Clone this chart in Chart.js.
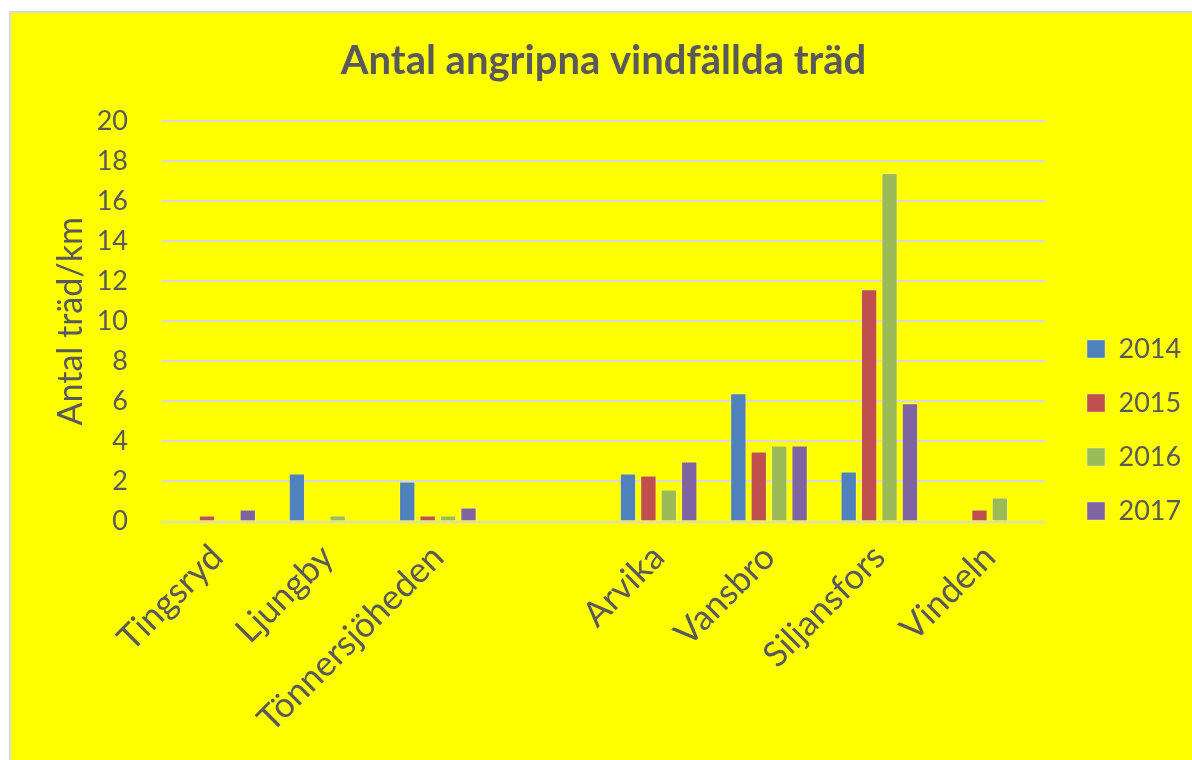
<!DOCTYPE html>
<html>
<head>
<meta charset="utf-8">
<script src="https://cdn.jsdelivr.net/npm/chart.js@4"></script>
<style>
  html, body { margin: 0; padding: 0; background: #fff; overflow: hidden; }
  #frame {
    position: absolute; left: 9px; top: 11px;
    width: 1181px; height: 747px;
    background: #ffff00;
    border-left: 2px solid #d9d9d9;
    border-top: 2px solid #d9d9d9;
  }
  canvas { display: block; }
</style>
</head>
<body>
<div id="frame"><canvas id="chart" width="1181" height="747"></canvas></div>
<script>
// values (träd/km), empty slot between south and north sites
const categories = ["Tingsryd", "Ljungby", "Tönnersjöheden", "", "Arvika", "Vansbro", "Siljansfors", "Vindeln"];
const years      = ["2014", "2015", "2016", "2017"];
const v2014      = [null, 2.4, 2.0, null, 2.4, 6.4, 2.5, null];
const v2015      = [0.3, null, 0.3, null, 2.3, 3.5, 11.6, 0.6];
const v2016      = [null, 0.3, 0.3, null, 1.6, 3.8, 17.4, 1.2];
const v2017      = [0.6, null, 0.7, null, 3.0, 3.8, 5.9, null];
const yTicks     = [0, 2, 4, 6, 8, 10, 12, 14, 16, 18, 20];

const colors = ["#4f81bd", "#c0504d", "#9bbb59", "#8064a2"];
const series = [v2014, v2015, v2016, v2017];
const txt = "#595959";
const FONT = "Lato, 'Open Sans', sans-serif";

// legend sits lower-right in the reference, move it after layout
const legendShift = {
    id: "legendShift",
    afterLayout(chart) {
        const lg = chart.legend;
        if (!lg) return;
        const w = lg.right - lg.left;
        const h = lg.bottom - lg.top;
        lg.left = 1049;
        lg.right = lg.left + w;
        lg.top = 295.5;
        lg.bottom = lg.top + h;
    }
};

new Chart(document.getElementById("chart"), {
    type: "bar",
    data: {
        labels: categories,
        datasets: years.map((y, i) => ({
            label: y,
            data: series[i],
            backgroundColor: colors[i],
            borderColor: "rgba(255,255,255,0.35)",
            borderWidth: 1,
            barPercentage: 0.8,
            categoryPercentage: 0.74
        }))
    },
    options: {
        responsive: false,
        animation: false,
        layout: { padding: { top: 24, left: 20, right: 16, bottom: 5 } },
        plugins: {
            title: {
                display: true,
                text: "Antal angripna vindfällda träd",
                color: txt,
                font: { family: FONT, size: 40, weight: "bold" },
                padding: { top: 0, bottom: 36 }
            },
            legend: {
                position: "right",
                align: "start",
                labels: {
                    color: txt,
                    font: { family: FONT, size: 27 },
                    boxWidth: 18,
                    boxHeight: 18,
                    padding: 27
                }
            },
            tooltip: { enabled: false }
        },
        scales: {
            x: {
                grid: { display: false, drawTicks: false },
                border: { display: false },
                ticks: {
                    color: txt,
                    font: { family: FONT, size: 35 },
                    maxRotation: 45,
                    minRotation: 45,
                    autoSkip: false,
                    padding: 15
                }
            },
            y: {
                min: 0,
                max: 20,
                afterBuildTicks(axis) {
                    axis.ticks = yTicks.map(v => ({ value: v }));
                },
                afterFit(axis) {
                    axis.width = 131;
                },
                grid: { color: "#d9d9d9", lineWidth: 2, drawTicks: false },
                border: { display: false },
                ticks: {
                    color: txt,
                    font: { family: FONT, size: 27 },
                    padding: 34
                },
                title: {
                    display: true,
                    text: "Antal träd/km",
                    color: txt,
                    font: { family: FONT, size: 34 },
                    padding: { top: 20, bottom: 0 }
                }
            }
        }
    },
    plugins: [legendShift]
});
</script>
</body>
</html>
